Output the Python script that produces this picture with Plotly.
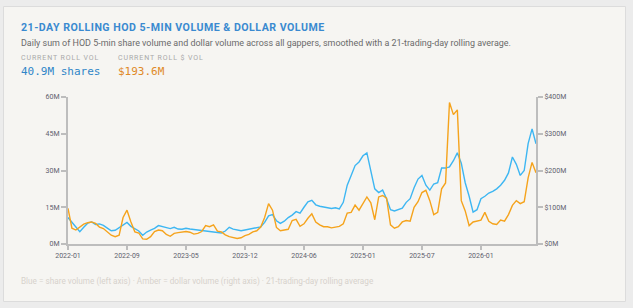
import plotly.graph_objects as go

# ---- data (120 evenly spaced samples over the trading-day index) ----
share_vol_m = [10.8, 9.0, 7.2, 5.0, 6.8, 8.5, 9.0, 8.0, 8.2, 7.6,
               6.5, 5.4, 5.6, 6.6, 7.9, 8.8, 7.2, 6.1, 5.3, 3.6,
               4.9, 5.7, 6.4, 7.5, 7.1, 6.7, 6.3, 6.8, 6.1, 6.0,
               6.4, 6.1, 6.0, 5.6, 5.5, 5.3, 5.1, 4.9, 4.8, 4.5,
               5.3, 6.8, 6.1, 5.7, 5.4, 5.7, 6.0, 6.3, 6.4, 7.0,
               8.8, 11.5, 12.0, 9.5, 8.4, 9.3, 10.8, 11.8, 13.2, 12.6,
               15.0, 17.2, 17.8, 16.0, 15.4, 15.2, 14.9, 14.5, 14.8, 14.3,
               17.0, 24.0, 28.0, 32.0, 33.5, 36.0, 37.2, 30.0, 22.5, 21.0,
               22.0, 18.5, 14.0, 13.5, 14.2, 14.6, 17.0, 18.5, 23.0, 26.5,
               28.0, 24.0, 22.0, 24.5, 25.0, 31.0, 31.0, 31.5, 34.0, 37.2,
               33.0, 25.0, 19.5, 13.0, 14.0, 18.5, 19.5, 20.8, 21.5, 22.5,
               24.0, 26.0, 29.0, 35.5, 32.5, 28.0, 30.0, 41.0, 47.0, 40.9]

dollar_vol_m = [97, 43, 38, 47, 54, 58, 60, 56, 46, 42,
                34, 24, 20, 24, 72, 92, 60, 33, 30, 14,
                13, 20, 34, 38, 36, 26, 21, 29, 31, 32,
                34, 32, 27, 29, 34, 50, 47, 52, 35, 33,
                25, 20, 17, 15, 17, 23, 26, 33, 36, 46,
                72, 110, 92, 45, 36, 38, 40, 64, 67, 48,
                55, 70, 82, 60, 52, 47, 47, 44, 46, 48,
                55, 84, 86, 106, 92, 112, 128, 112, 66, 128,
                132, 125, 52, 43, 47, 60, 64, 62, 100, 115,
                140, 146, 118, 80, 86, 150, 166, 385, 352, 365,
                118, 90, 50, 60, 62, 65, 86, 62, 55, 53,
                65, 62, 80, 105, 118, 110, 115, 180, 222, 193.6]

x_tick_index = [0, 15, 30, 45, 60, 75, 90, 105]
x_tick_labels = ["2022-01", "2022-09", "2023-05", "2023-12", "2024-06", "2025-01", "2025-07", "2026-01"]

left_ticks = [0, 15, 30, 45, 60]
left_tick_labels = ["0M", "15M", "30M", "45M", "60M"]
right_ticks = [0, 100, 200, 300, 400]
right_tick_labels = ["$0M", "$100M", "$200M", "$300M", "$400M"]

current_vol_label = "40.9M shares"
current_dollar_label = "$193.6M"

# ---- layout geometry (pixels) ----
W, H = 633, 308
PL, PR, PT, PB = 68, 536, 97, 244


def px(xp):
    return (xp - PL) / (PR - PL)


def py(yp):
    return (PB - yp) / (PB - PT)


BLUE = "#3db6f2"
AMBER = "#f5a31c"
AXIS = "#bdbdbd"
TICKFONT = dict(family="Roboto, sans-serif", size=7, color="#5f5f6e")

xs = list(range(len(share_vol_m)))

fig = go.Figure()
fig.add_trace(go.Scatter(x=xs, y=dollar_vol_m, mode="lines", yaxis="y2",
                         line=dict(color=AMBER, width=1.4), name="Dollar volume",
                         hoverinfo="skip"))
fig.add_trace(go.Scatter(x=xs, y=share_vol_m, mode="lines",
                         line=dict(color=BLUE, width=1.4), name="Share volume",
                         hoverinfo="skip"))

fig.update_layout(
    width=W, height=H,
    margin=dict(l=PL, r=W - PR, t=PT, b=H - PB, pad=0),
    paper_bgcolor="#ececec",
    plot_bgcolor="rgba(0,0,0,0)",
    showlegend=False,
    xaxis=dict(range=[0, len(xs) - 1], tickvals=x_tick_index, ticktext=x_tick_labels,
               showgrid=False, zeroline=False, showline=True, linecolor=AXIS, linewidth=2,
               ticks="outside", ticklen=4, tickwidth=1.5, tickcolor=AXIS,
               tickfont=TICKFONT, fixedrange=True),
    yaxis=dict(range=[0, 60], tickvals=left_ticks, ticktext=left_tick_labels,
               showgrid=False, zeroline=False, showline=True, linecolor=AXIS, linewidth=2,
               ticks="outside", ticklen=5, tickwidth=1.5, tickcolor=AXIS,
               tickfont=TICKFONT, fixedrange=True),
    yaxis2=dict(range=[0, 400], tickvals=right_ticks, ticktext=right_tick_labels,
                overlaying="y", side="right",
                showgrid=False, zeroline=False, showline=True, linecolor=AXIS, linewidth=2,
                ticks="outside", ticklen=5, tickwidth=1.5, tickcolor=AXIS,
                tickfont=TICKFONT, fixedrange=True),
)

# card background
fig.add_shape(type="rect", xref="paper", yref="paper",
              x0=px(3.5), x1=px(625.5), y0=py(301.5), y1=py(6.5),
              fillcolor="#f6f5f2", line=dict(color="#dcdcdc", width=1), layer="below")


def note(text, xp, yp, size, color, family="Roboto, sans-serif"):
    fig.add_annotation(text=text, xref="paper", yref="paper", x=px(xp), y=py(yp),
                       xanchor="left", yanchor="middle", showarrow=False,
                       font=dict(size=size, color=color, family=family))


note('<b><span style="letter-spacing:0.5px">21-DAY ROLLING HOD 5-MIN VOLUME &amp; DOLLAR VOLUME</span></b>',
     19, 27.5, 10.6, "#3a8ad0")
note("Daily sum of HOD 5-min share volume and dollar volume across all gappers, smoothed with a 21-trading-day rolling average.",
     19, 43.5, 8.95, "#6a6a6a")
note('<span style="letter-spacing:0.9px">CURRENT ROLL VOL</span>', 19, 57.5, 7, "#a9a9a9")
note('<span style="letter-spacing:0.9px">CURRENT ROLL $ VOL</span>', 116, 57.5, 7, "#a9a9a9")
note(current_vol_label, 19, 71.5, 11, "#2f86c8", "DejaVu Sans Mono, monospace")
note(current_dollar_label, 116, 71.5, 11, "#e08a28", "DejaVu Sans Mono, monospace")
note("Blue = share volume (left axis) · Amber = dollar volume (right axis) · 21-trading-day rolling average",
     19, 281, 8.2, "#d6d2cc")

fig.write_html("out.html")
